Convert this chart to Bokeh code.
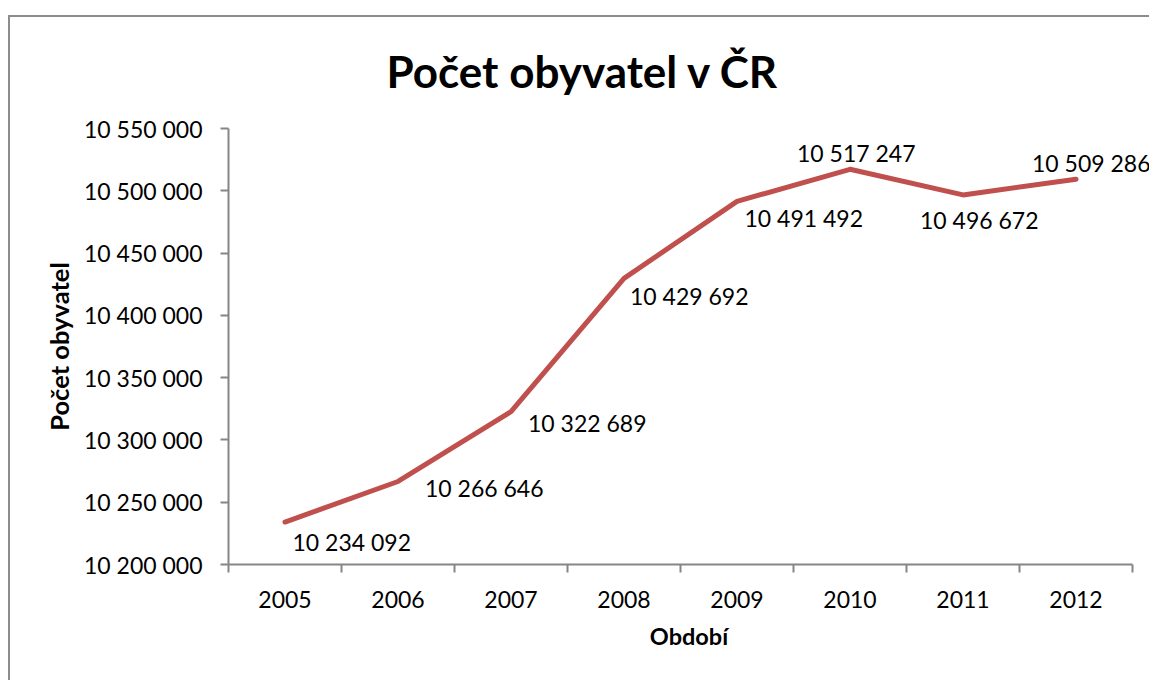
from bokeh.plotting import figure
from bokeh.models import ColumnDataSource, FixedTicker, Title
from bokeh.embed import file_html
from bokeh.resources import INLINE
from bokeh.core.properties import value

# ---- data ----
years = ["2005", "2006", "2007", "2008", "2009", "2010", "2011", "2012"]
population = [10234092, 10266646, 10322689, 10429692, 10491492, 10517247, 10496672, 10509286]
population_labels = ["10 234 092", "10 266 646", "10 322 689", "10 429 692",
                     "10 491 492", "10 517 247", "10 496 672", "10 509 286"]
y_ticks = [10200000, 10250000, 10300000, 10350000, 10400000, 10450000, 10500000, 10550000]
y_tick_labels = ["10 200 000", "10 250 000", "10 300 000", "10 350 000",
                 "10 400 000", "10 450 000", "10 500 000", "10 550 000"]

# ---- label placement (pixels, screen) ----
label_dx = [7.5, 27, 17, 6, 7.5, -53, -43, -44]
label_dy = [19.5, 7, 11.5, 18, 16.5, -16, 25, -16]

FONT = "Lato"
AXIS_COLOR = "#868686"
LINE_COLOR = "#C0504D"
BORDER_COLOR = "#8c8c8c"

n = len(years)
xs = [i + 0.5 for i in range(n)]
src = ColumnDataSource(dict(x=xs, y=population, lab=population_labels, dx=label_dx, dy=label_dy))

# frame spans to the right canvas edge; the axis itself is bounded to the categories
W, H = 1149, 680
LEFT, RIGHT_AXIS_END = 228, 1132   # canvas px
x_end = n * (W - LEFT) / (RIGHT_AXIS_END - LEFT)

p = figure(width=W, height=H, x_range=(0, x_end), y_range=(y_ticks[0], y_ticks[-1]),
           output_backend="svg", toolbar_location=None,
           min_border_left=LEFT, min_border_right=0, min_border_top=128, min_border_bottom=116)

# chart-area border (left and top edges; the rest lies outside the window)
grad = f"linear-gradient({BORDER_COLOR}, {BORDER_COLOR})"
p.styles = {
    "background-color": "white",
    "background-image": f"{grad}, {grad}",
    "background-size": "2px 100%, 100% 2px",
    "background-position": "8px 15px, 8px 15px",
    "background-repeat": "no-repeat",
}

p.title = Title(text="Počet obyvatel v ČR", align="left", offset=158, standoff=64,
                text_font=FONT, text_font_size="44px", text_font_style="bold", text_color="black")

p.xgrid.visible = False
p.ygrid.visible = False
p.outline_line_color = None
p.background_fill_color = "white"
p.border_fill_color = None

p.line("x", "y", source=src, line_color=LINE_COLOR, line_width=5, line_cap="round", line_join="round")
p.text("x", "y", text="lab", source=src, x_offset="dx", y_offset="dy",
       text_font=value(FONT), text_font_size="23px", text_align="left", text_baseline="middle",
       text_color="black")

xa = p.xaxis[0]
xa.bounds = (0, n)
xa.ticker = FixedTicker(ticks=xs, minor_ticks=list(range(n + 1)))
xa.major_label_overrides = {x: y for x, y in zip(xs, years)}
xa.major_tick_line_color = None
xa.major_tick_out = 8
xa.major_tick_in = 0
xa.minor_tick_out = 8
xa.minor_tick_in = 0
xa.minor_tick_line_color = AXIS_COLOR
xa.minor_tick_line_width = 2
xa.axis_line_color = AXIS_COLOR
xa.axis_line_width = 2
xa.major_label_text_font = FONT
xa.major_label_text_font_size = "23px"
xa.major_label_text_color = "black"
xa.major_label_standoff = 18
xa.axis_label = "Období"
xa.axis_label_text_font = FONT
xa.axis_label_text_font_size = "23.5px"
xa.axis_label_text_font_style = "bold"
xa.axis_label_text_color = "black"
xa.axis_label_standoff = 11

ya = p.yaxis[0]
ya.ticker = FixedTicker(ticks=y_ticks, minor_ticks=[])
ya.major_label_overrides = {t: s for t, s in zip(y_ticks, y_tick_labels)}
ya.major_tick_out = 8
ya.major_tick_in = 0
ya.major_tick_line_color = AXIS_COLOR
ya.major_tick_line_width = 2
ya.minor_tick_line_color = None
ya.axis_line_color = AXIS_COLOR
ya.axis_line_width = 2
ya.major_label_text_font = FONT
ya.major_label_text_font_size = "23px"
ya.major_label_text_color = "black"
ya.major_label_standoff = 18
ya.axis_label = "Počet obyvatel"
ya.axis_label_text_font = FONT
ya.axis_label_text_font_size = "25.5px"
ya.axis_label_text_font_style = "bold"
ya.axis_label_text_color = "black"
ya.axis_label_standoff = 7

open("out.html", "w").write(file_html(p, INLINE))
